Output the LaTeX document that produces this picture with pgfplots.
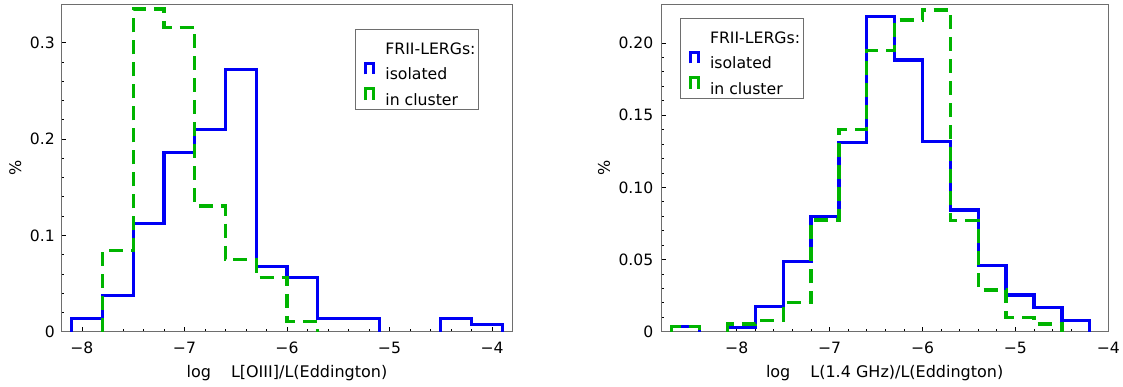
\documentclass[border=0pt]{standalone}
\usepackage{fontspec}
\setmainfont{DejaVu Sans}
\usepackage{pgfplots}
\pgfplotsset{compat=1.18}
\definecolor{hblue}{RGB}{0,0,245}
\definecolor{hgreen}{RGB}{0,180,0}
\definecolor{framec}{RGB}{110,110,110}
\newcommand{\fs}{\fontsize{16}{18}\selectfont}
\newcommand{\ft}{\fontsize{15.6}{18}\selectfont}
\newcommand{\fl}{\fontsize{15.7}{18}\selectfont}
\pgfplotsset{
 histo/.style={
  scale only axis, tick pos=left, tick align=inside,
  axis line style={framec, line width=1pt},
  major tick length=5pt, minor tick length=3pt,
  every tick/.style={black, line width=0.8pt},
  tick label style={font=\ft},
  label style={font=\fs},
  xticklabel style={anchor=north, inner sep=0pt, yshift=-10.2pt},
  yticklabel style={anchor=east, inner sep=0pt},
  minor x tick num=4, minor y tick num=4,
  ymin=0,
  xtick={-8,-7,-6,-5,-4},
  xticklabels={−8,−7,−6,−5,−4},
  ylabel={\%},
  legend cell align=left,
  legend style={font=\fl, draw=framec, line width=1pt, inner xsep=3.5pt, inner ysep=0.8pt,
    row sep=10.1pt, column sep=10.5pt, nodes={inner sep=0pt, text height=12pt, text depth=3.5pt}},
  legend image code/.code={\path[draw=none, fill=none] (-6pt,-7pt) rectangle (9.5pt,7pt); \draw[#1, overlay, solid, line width=3pt, line join=miter] (0pt,1.25pt) -- (0pt,12.55pt) -- (8pt,12.55pt) -- (8pt,1.25pt);},
 },
 hb/.style={hblue, line width=3.3pt, line join=miter},
 hg/.style={hgreen, line width=3.3pt, line join=miter, dash pattern=on 14pt off 8pt},
}
\begin{document}
\begin{tikzpicture}[x=1pt,y=1pt]
\useasboundingbox (0,0) rectangle (1123,387);
\begin{axis}[histo, at={(61.4pt,55.3pt)}, anchor=south west, width=451.1pt, height=327.4pt,
  xmin=-8.2, xmax=-3.8, ymax=0.34,
  ytick={0,0.1,0.2,0.3}, yticklabels={0,0.1,0.2,0.3},
  yticklabel style={xshift=-6.5pt},
  xlabel={log\hspace{20pt}L[OIII]/L(Eddington)},
  xlabel style={at={(axis description cs:0.5,-0.1252)}, anchor=center},
  ylabel style={at={(axis description cs:-0.102,0.5)}, anchor=center},
  legend style={at={(0.9268,0.925)}, anchor=north east},
]
\addlegendimage{empty legend}
\addlegendentry[text height=24.2pt]{FRII-LERGs:}
\addplot[hb] coordinates {(-8.1,0) (-8.1,0.014) (-7.8,0.014) (-7.8,0.0375) (-7.5,0.0375) (-7.5,0.112) (-7.2,0.112) (-7.2,0.186) (-6.9,0.186) (-6.9,0.210) (-6.6,0.210) (-6.6,0.272) (-6.3,0.272) (-6.3,0.068) (-6.0,0.068) (-6.0,0.056) (-5.7,0.056) (-5.7,0.014) (-5.1,0.014) (-5.1,0)};
\addlegendentry{isolated}
\addplot[hg] coordinates {(-7.8,0) (-7.8,0.0845) (-7.5,0.0845) (-7.5,0.335) (-7.2,0.335) (-7.2,0.316) (-6.9,0.316) (-6.9,0.1305) (-6.6,0.1305) (-6.6,0.075) (-6.3,0.075) (-6.3,0.0565) (-6.0,0.0565) (-6.0,0.0105) (-5.7,0.0105) (-5.7,0)};
\addlegendentry{in cluster}
\addplot[hb, forget plot] coordinates {(-4.5,0) (-4.5,0.014) (-4.2,0.014) (-4.2,0.0075) (-3.9,0.0075) (-3.9,0)};
\end{axis}
\begin{axis}[histo, at={(661pt,55.3pt)}, anchor=south west, width=447.3pt, height=327.4pt,
  xmin=-8.815, xmax=-4, ymax=0.2268,
  ytick={0,0.05,0.1,0.15,0.2}, yticklabels={0,0.05,0.10,0.15,0.20},
  yticklabel style={xshift=-7.5pt},
  xlabel={log\hspace{20pt}L(1.4 GHz)/L(Eddington)},
  xlabel style={at={(axis description cs:0.5,-0.1252)}, anchor=center},
  ylabel style={at={(axis description cs:-0.1274,0.5)}, anchor=center},
  legend style={at={(0.0425,0.959)}, anchor=north west},
]
\addlegendimage{empty legend}
\addlegendentry[text height=24.2pt]{FRII-LERGs:}
\addplot[hb] coordinates {(-8.1,0) (-8.1,0.003) (-7.8,0.003) (-7.8,0.0173) (-7.5,0.0173) (-7.5,0.0485) (-7.2,0.0485) (-7.2,0.0797) (-6.9,0.0797) (-6.9,0.1312) (-6.6,0.1312) (-6.6,0.2182) (-6.3,0.2182) (-6.3,0.1882) (-6.0,0.1882) (-6.0,0.1316) (-5.7,0.1316) (-5.7,0.0843) (-5.4,0.0843) (-5.4,0.0457) (-5.1,0.0457) (-5.1,0.0254) (-4.8,0.0254) (-4.8,0.0169) (-4.5,0.0169) (-4.5,0.0076) (-4.2,0.0076) (-4.2,0)};
\addlegendentry{isolated}
\addplot[hg] coordinates {(-8.1,0) (-8.1,0.0053) (-7.8,0.0053) (-7.8,0.0076) (-7.5,0.0076) (-7.5,0.020) (-7.2,0.020) (-7.2,0.0774) (-6.9,0.0774) (-6.9,0.140) (-6.6,0.140) (-6.6,0.1947) (-6.3,0.1947) (-6.3,0.216) (-6.0,0.216) (-6.0,0.2229) (-5.7,0.2229) (-5.7,0.0769) (-5.4,0.0769) (-5.4,0.0289) (-5.1,0.0289) (-5.1,0.0100) (-4.8,0.0100) (-4.8,0.0053) (-4.5,0.0053) (-4.5,0)};
\addlegendentry{in cluster}
\addplot[hb, forget plot] coordinates {(-8.7,0) (-8.7,0.0035) (-8.4,0.0035) (-8.4,0)};
\addplot[hg, forget plot] coordinates {(-8.7,0) (-8.7,0.0035) (-8.4,0.0035) (-8.4,0)};
\end{axis}
\end{tikzpicture}
\end{document}
